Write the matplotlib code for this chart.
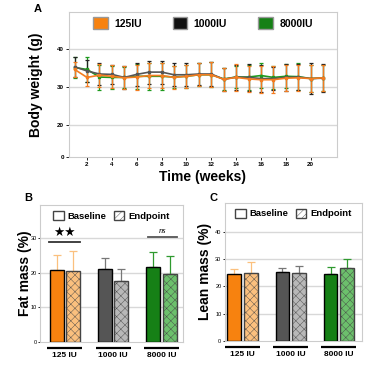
import numpy as np
import matplotlib
matplotlib.use("Agg")
import matplotlib.pyplot as plt
from matplotlib.patches import Patch
from matplotlib.scale import FuncScale

plt.rcParams["font.family"] = ["Liberation Sans", "DejaVu Sans"]
plt.rcParams["hatch.linewidth"] = 0.3

# ---- panel A data: body weight (g) per week
weeks = list(range(1, 22))
bw_125 = [34.6, 32.5, 33.1, 32.8, 32.4, 32.6, 33.0, 33.0, 32.5, 32.8, 33.2,
          33.2, 32.0, 32.5, 32.1, 31.9, 31.9, 32.3, 32.4, 32.2, 32.4]
bw_1000 = [35.3, 34.2, 33.4, 33.3, 32.5, 33.3, 33.9, 33.9, 33.2, 33.2, 33.4,
           33.4, 32.0, 32.6, 32.5, 32.2, 32.2, 32.5, 32.6, 32.2, 32.3]
bw_8000 = [35.1, 34.6, 32.6, 32.5, 32.5, 32.8, 32.8, 32.8, 32.6, 32.8, 33.2,
           33.2, 32.1, 32.6, 32.6, 33.0, 32.5, 32.8, 32.7, 32.2, 32.4]
err_125 = [2.0, 2.3, 3.0, 3.0, 3.0, 3.3, 3.3, 3.3, 3.0, 3.0, 3.0,
           3.3, 3.0, 3.5, 3.5, 3.5, 3.5, 3.5, 3.5, 3.5, 3.5]
err_1000 = [2.7, 2.8, 3.0, 2.5, 3.0, 3.1, 3.0, 3.0, 3.0, 3.0, 3.0,
            3.2, 3.0, 3.3, 3.5, 3.5, 3.0, 3.5, 3.5, 4.0, 3.7]
err_8000 = [2.8, 3.4, 3.3, 3.0, 2.8, 3.3, 3.5, 3.5, 3.0, 3.0, 3.0,
            3.3, 3.0, 3.0, 3.3, 3.3, 3.0, 3.2, 3.5, 3.5, 3.5]

# ---- panels B/C data
groups = ["125 IU", "1000 IU", "8000 IU"]
fat_base = [20.9, 21.0, 21.6]
fat_end = [20.6, 17.6, 19.6]
fat_base_err = [4.2, 3.3, 4.3]
fat_end_err = [5.6, 3.5, 5.3]
lean_base = [24.4, 25.1, 24.6]
lean_end = [24.7, 24.8, 26.8]
lean_base_err = [2.0, 1.5, 2.4]
lean_end_err = [4.1, 2.7, 3.2]

dark = ["#f7820f", "#555555", "#168016"]
light = ["#fbc07e", "#b8b8b8", "#6cc06c"]
line_cols = ["#f47c20", "#555555", "#1e9a1e"]

fig = plt.figure(figsize=(3.71, 3.65), dpi=100)

# ---------------- Panel A ----------------
axA = fig.add_axes([0.186, 0.570, 0.722, 0.397])
k = 1.6 / 3.8


def fwd(y):
    y = np.asarray(y, dtype=float)
    return np.where(y < 20, y * k, 20 * k + (y - 20))


def inv(y):
    y = np.asarray(y, dtype=float)
    return np.where(y < 20 * k, y / k, y - 20 * k + 20)


axA.set_yscale(FuncScale(axA, (fwd, inv)))
series = [(bw_8000, err_8000, line_cols[2], "#1e9a1e"),
          (bw_1000, err_1000, line_cols[1], "#222222"),
          (bw_125, err_125, line_cols[0], "#f47c20")]
for vals, err, c, ec in series:
    axA.errorbar(weeks, vals, yerr=err, color=c, ecolor=ec, lw=1.2,
                 elinewidth=0.9, capsize=1.5, capthick=0.9,
                 marker="s", ms=1.5)
axA.set_ylim(0, 49.7)
axA.set_xlim(0.55, 22.1)
axA.set_yticks([0, 20, 30, 40])
axA.set_xticks(range(2, 21, 2))
axA.tick_params(labelsize=4.5, length=2, width=0.6, pad=1.5)
for lab in axA.get_xticklabels() + axA.get_yticklabels():
    lab.set_fontweight("bold")
for y in [20, 30, 40]:
    axA.axhline(y, color="#d8d8d8", lw=1.0, zorder=0)
for s in axA.spines.values():
    s.set_color("#cccccc")
axA.spines["left"].set_bounds(20, 49.7)
axA.plot([0, 0], [0, 18.5], transform=axA.get_yaxis_transform(),
         color="#cccccc", lw=0.8, clip_on=False)
axA.set_xlabel("Time (weeks)", fontsize=10, fontweight="bold", labelpad=2)
axA.set_ylabel("Body weight (g)", fontsize=10, fontweight="bold", labelpad=10)
hA = [Patch(facecolor=dark[0], edgecolor="#999999"),
      Patch(facecolor="#111111", edgecolor="#999999"),
      Patch(facecolor=dark[2], edgecolor="#999999")]
axA.legend(hA, ["125IU", "1000IU", "8000IU"], loc="upper center", ncol=3,
           frameon=False, prop={"size": 7.5, "weight": "bold"},
           handlelength=1.4, handleheight=1.4, columnspacing=3.0,
           handletextpad=0.6, bbox_to_anchor=(0.5, 1.03))
fig.text(0.09, 0.975, "A", fontsize=8, fontweight="bold", va="center")


def bar_panel(ax, base, end, berr, eerr, ylim, yticks, xlim, ylabel, lpad):
    x = np.arange(len(groups))
    off = 0.17
    w = 0.29
    for i in range(len(groups)):
        ax.bar(x[i] - off, base[i], w, color=dark[i], edgecolor="black",
               lw=1.0, zorder=3)
        ax.bar(x[i] + off, end[i], w, color=light[i], edgecolor="#444444",
               lw=1.0, hatch="xxxx", zorder=3)
        ec = light[i] if i == 0 else ("#777777" if i == 1 else "#2f9a2f")
        ax.errorbar([x[i] - off, x[i] + off], [base[i], end[i]],
                    yerr=[[0, 0], [berr[i], eerr[i]]], fmt="none",
                    ecolor=ec, elinewidth=0.9, capsize=3, capthick=0.9,
                    zorder=2)
    ax.set_xlim(*xlim)
    ax.set_ylim(*ylim)
    ax.set_yticks(yticks)
    ax.set_xticks(x)
    ax.set_xticklabels(groups, fontsize=6, fontweight="bold")
    ax.tick_params(axis="x", length=0, pad=7)
    ax.tick_params(axis="y", labelsize=4, length=1.5, width=0.6, pad=1)
    for yv in yticks[1:]:
        ax.axhline(yv, color="#d8d8d8", lw=1.0, zorder=0)
    for s in ax.spines.values():
        s.set_color("#cccccc")
    ax.hlines([-0.045] * 3, x - 0.36, x + 0.36,
              transform=ax.get_xaxis_transform(), color="black", lw=1.6,
              clip_on=False)
    ax.set_ylabel(ylabel, fontsize=10, fontweight="bold", labelpad=lpad)
    h = [Patch(facecolor="white", edgecolor="#444444"),
         Patch(facecolor="white", edgecolor="#444444", hatch="/////")]
    ax.legend(h, ["Baseline", "Endpoint"], loc="upper center", ncol=2,
              frameon=False, prop={"size": 6.8, "weight": "bold"},
              handlelength=1.1, handleheight=1.1, columnspacing=0.8,
              handletextpad=0.4, bbox_to_anchor=(0.5, 1.02))


# ---------------- Panel B ----------------
axB = fig.add_axes([0.108, 0.063, 0.385, 0.375])
bar_panel(axB, fat_base, fat_end, fat_base_err, fat_end_err,
          (0, 39.5), [0, 10, 20, 30], (-0.51, 2.44), "Fat mass (%)", -1)
axB.plot([-0.32, 0.32], [29.0, 29.0], color="#333333", lw=1.3)
axB.text(0.0, 29.8, "\u2605\u2605", ha="center", va="bottom", fontsize=9,
         family=["DejaVu Sans"])
axB.plot([1.72, 2.32], [30.4, 30.4], color="#555555", lw=1.3)
axB.text(2.02, 31.0, "ns", ha="center", va="bottom", fontsize=6,
         style="italic", family=["Liberation Serif", "DejaVu Serif"])
fig.text(0.065, 0.457, "B", fontsize=8, fontweight="bold", va="center")

# ---------------- Panel C ----------------
axC = fig.add_axes([0.606, 0.066, 0.369, 0.378])
bar_panel(axC, lean_base, lean_end, lean_base_err, lean_end_err,
          (0, 50.5), [0, 10, 20, 30, 40], (-0.37, 2.48), "Lean mass (%)", 2)
fig.text(0.566, 0.457, "C", fontsize=8, fontweight="bold", va="center")

fig.savefig("out.png", dpi=100)
